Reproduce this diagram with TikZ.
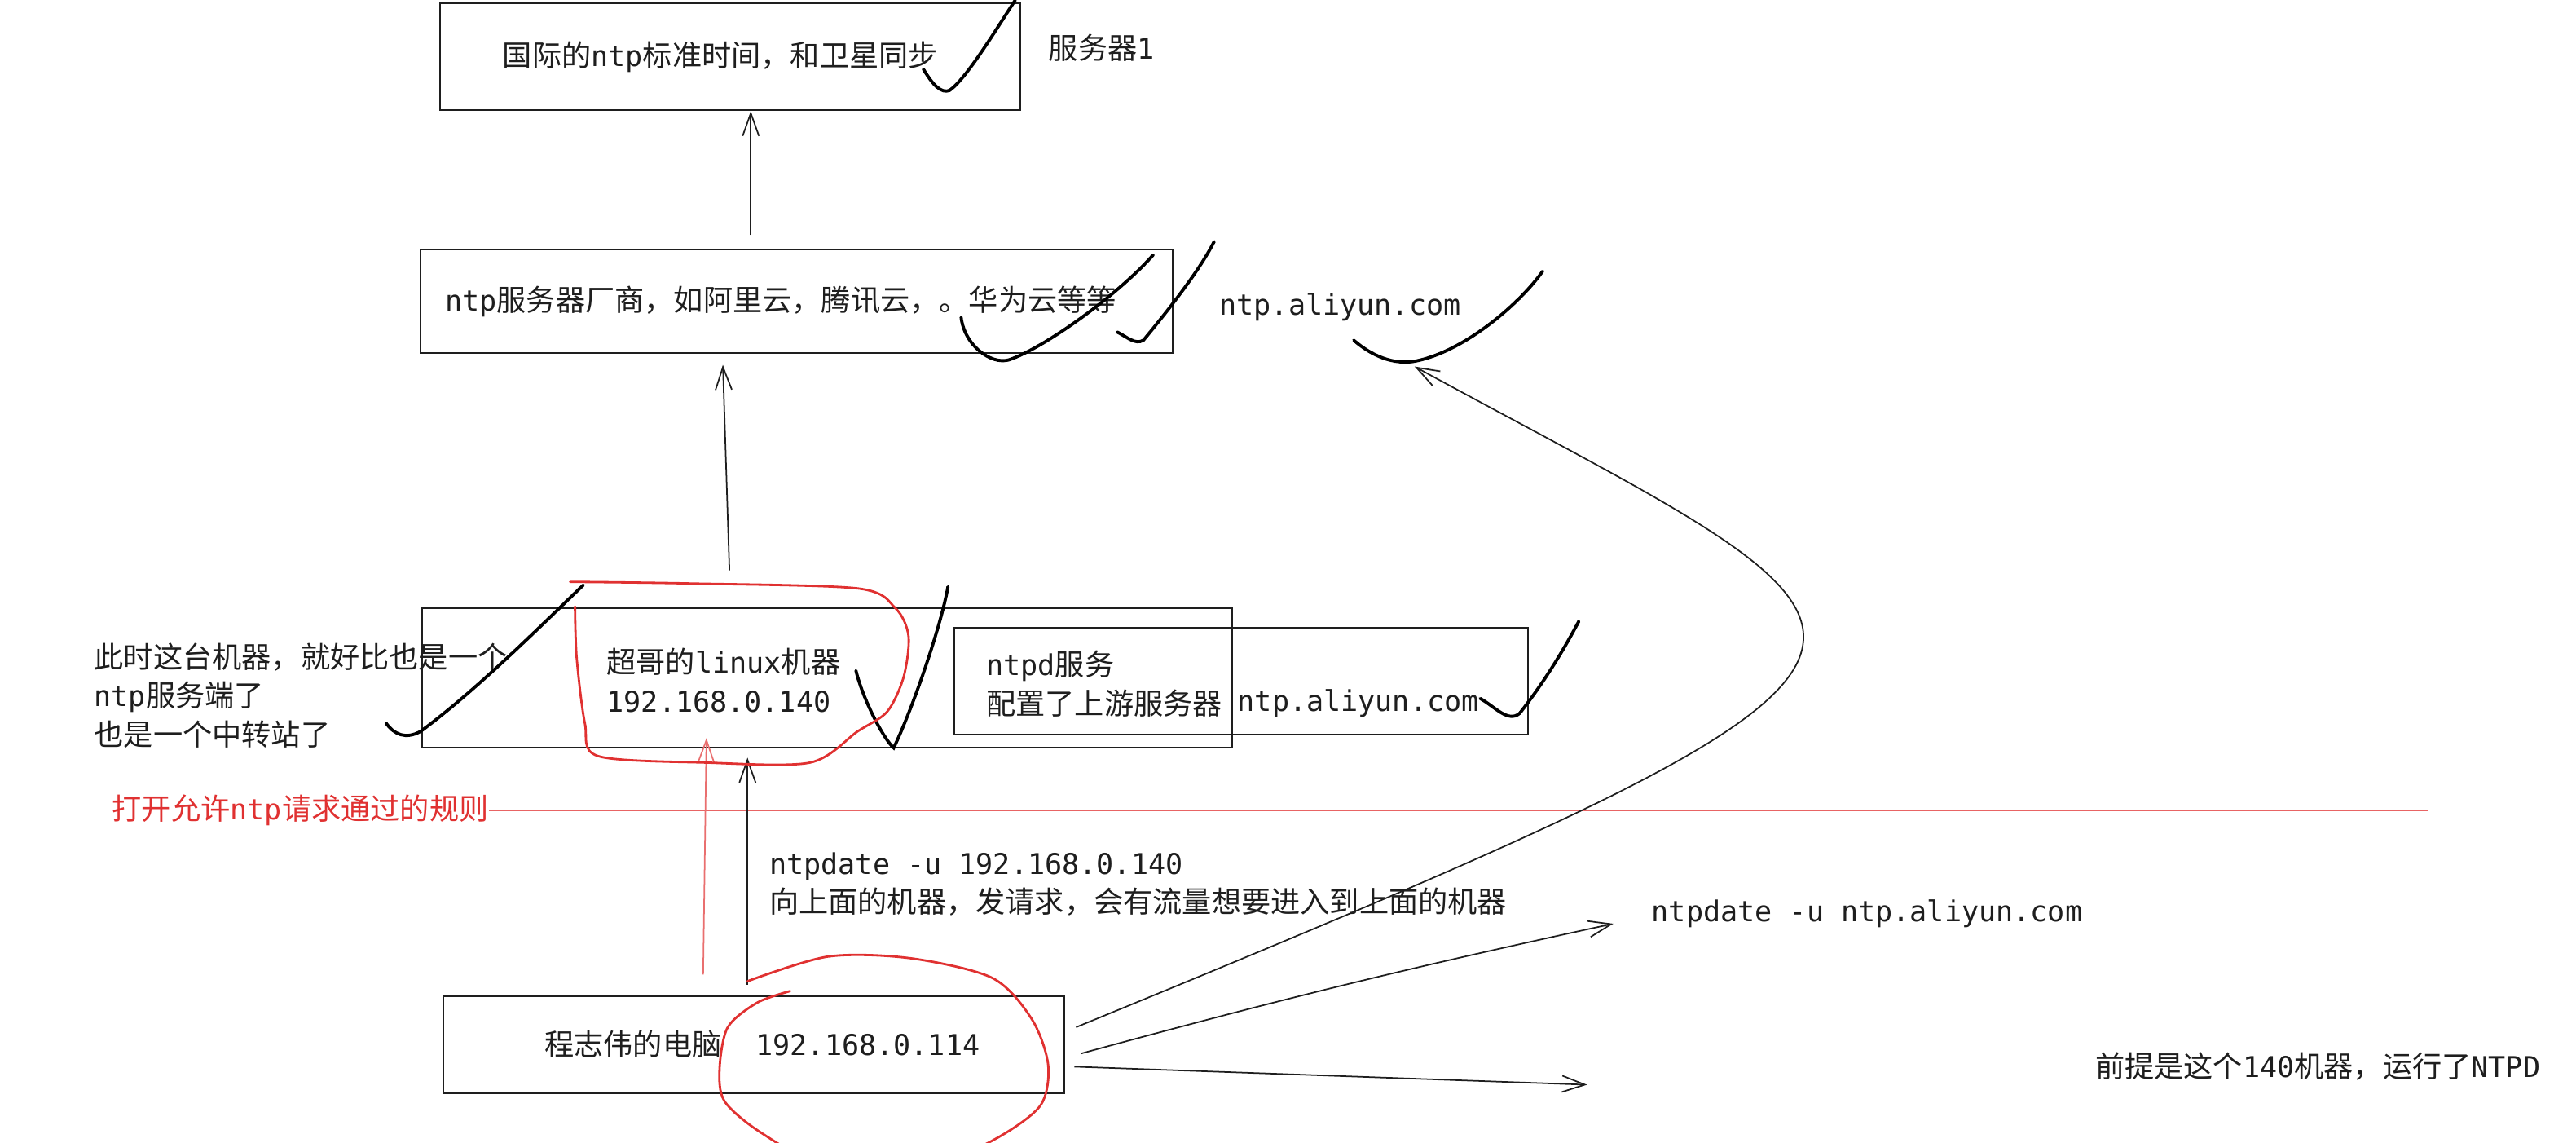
\documentclass[tikz,border=0pt]{standalone}
\usepackage{fontspec}
\setmainfont{Noto Sans CJK SC}
\setmonofont[Scale=0.97]{DejaVu Sans Mono}
\usepackage{xcolor}
\usetikzlibrary{arrows.meta}
\definecolor{ink}{HTML}{1E1E1E}
\definecolor{pen}{HTML}{E03131}
\newcommand{\pxu}{0.2016mm}

\begin{document}
\begin{tikzpicture}[
    x=0.2016mm, y=-0.2016mm,
    font=\fontsize{10.3}{13.5}\selectfont,
    box/.style={rectangle,draw=ink,line width=0.6pt,inner sep=0pt,text=ink},
    txt/.style={anchor=west,align=left,inner sep=0pt,text=ink},
    arr/.style={-{Straight Barb[length=2.8mm,width=2mm]},draw=ink,line width=0.5pt},
    checkmark/.style={draw=black,line width=1.1pt,line cap=round},
    redloop/.style={draw=pen,line width=0.8pt,line cap=round}]
\useasboundingbox (0,0) rectangle (1568,695);

% servers
\node[box,minimum width=353*\pxu,minimum height=65*\pxu,text width=277*\pxu,align=left] (intl) at (444.5,34.5)
    {国际的\texttt{ntp}标准时间，和卫星同步};
\node[txt] (srv1) at (638,29) {服务器\texttt{1}};
\node[box,minimum width=458*\pxu,minimum height=63*\pxu,text width=428*\pxu,align=left] (vendor) at (485,183.5)
    {\texttt{ntp}服务器厂商，如阿里云，腾讯云，。华为云等等};
\node[txt] (aliyun) at (742,187) {\texttt{ntp.aliyun.com}};

% relay machine
\node[box,minimum width=493*\pxu,minimum height=85*\pxu] (linux) at (503.5,412.5) {};
\node[txt] (chao) at (369,414) {超哥的\texttt{linux}机器\\\texttt{192.168.0.140}};
\node[box,minimum width=349*\pxu,minimum height=65*\pxu] (ntpd) at (755.5,414.5) {};
\node[txt] (ntpdtxt) at (600,416) {\texttt{ntpd}服务\\配置了上游服务器};
\node[txt] (upstream) at (753,428) {\texttt{ntp.aliyun.com}};
\node[txt] (relay) at (57,423) {此时这台机器，就好比也是一个\\\texttt{ntp}服务端了\\也是一个中转站了};

% firewall rule
\node[txt,text=pen] (rule) at (68,493) {打开允许\texttt{ntp}请求通过的规则};
\coordinate (ruleend) at (1478,493);
\draw[pen!75,line width=0.6pt] (rule.east) -- (ruleend);

% client
\node[txt] (cmd) at (468,538) {\texttt{ntpdate -u 192.168.0.140}\\向上面的机器，发请求，会有流量想要进入到上面的机器};
\node[box,minimum width=378*\pxu,minimum height=59*\pxu] (pc) at (459,635.5)
    {\hspace{2mm}程志伟的电脑\hspace{4.2mm}\texttt{192.168.0.114}};
\node[txt] (cmd2) at (1005,556) {\texttt{ntpdate -u ntp.aliyun.com}};
\node[txt] (premise) at (1275,649) {前提是这个\texttt{140}机器，运行了\texttt{NTPD}};

% arrows
\coordinate (up1) at (457,143);
\draw[arr] (up1) -- (up1 |- intl.south);
\coordinate (up2a) at (444,347);
\coordinate (up2b) at (440,222);
\draw[arr] (up2a) -- (up2b);
\coordinate (req0) at (428,593);
\coordinate (req1) at (430,449);
\draw[arr,draw=pen!70] (req0) -- (req1);
\coordinate (send0) at (455,599);
\coordinate (send1) at (455,461);
\draw[arr] (send0) -- (send1);
\coordinate (q0) at (655,625);
\coordinate (q1) at (861,223);
\draw[arr] (q0) .. controls (1235,387) and (1180,397) .. (q1);
\coordinate (m0) at (658,641);
\coordinate (m1) at (982,562);
\draw[arr] (m0) to[bend left=1.5] (m1);
\coordinate (l0) at (654,649);
\coordinate (l1) at (966,660);
\draw[arr] (l0) -- (l1);

% hand-drawn marks
\draw[checkmark] (562,42) .. controls (568,52) and (573,57) .. (578,55) .. controls (588,48) and (605,20) .. (618,0);
\draw[checkmark] (585,193) .. controls (587,210) and (603,222) .. (614,219) .. controls (635,212) and (680,180) .. (702,155);
\draw[checkmark] (680,202) .. controls (686,205) and (691,210) .. (696,207) .. controls (710,190) and (730,165) .. (739,147);
\draw[checkmark] (824,207) .. controls (832,214) and (845,222) .. (860,220) .. controls (890,215) and (925,185) .. (939,165);
\draw[checkmark] (235,440) .. controls (240,447) and (247,450) .. (256,445) .. controls (290,420) and (330,380) .. (355,356);
\draw[checkmark] (521,408) .. controls (525,425) and (538,450) .. (544,455) .. controls (556,430) and (573,380) .. (577,357);
\draw[checkmark] (901,425) .. controls (910,430) and (918,440) .. (925,434) .. controls (940,415) and (952,395) .. (961,378);
\draw[redloop] plot[smooth] coordinates {(347,354) (420,355) (522,358) (545,370) (553,387) (550,412) (540,433)
    (522,445) (493,464) (430,464) (364,460) (356,440) (351,400) (350,369)};
\draw[redloop] plot[smooth] coordinates {(481,603) (461,610) (443,625) (438,650) (441,670) (463,689) (500,708)
    (560,712) (604,694) (633,673) (638,648) (628,620) (604,595) (554,583) (504,582) (455,597)};
\end{tikzpicture}
\end{document}
